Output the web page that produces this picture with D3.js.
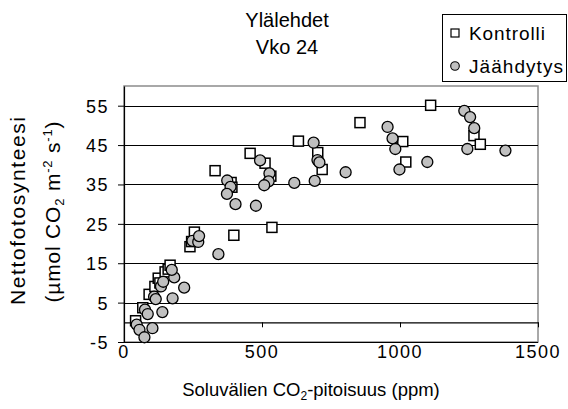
<!DOCTYPE html>
<html>
<head>
<meta charset="utf-8">
<script src="https://cdn.jsdelivr.net/npm/d3@7"></script>
<style>
body { margin: 0; background: #fff; }
text { font-family: "Liberation Sans", Arial, sans-serif; fill: #000; }
</style>
</head>
<body>
<div id="chart"></div>
<script>
// values
var kontrolliX = [42, 68, 91, 112, 124, 130, 149, 160, 167, 239, 245, 255, 330, 388, 391, 398, 457, 511, 532, 536, 632, 702, 718, 855, 1010, 1021, 1111, 1268, 1291];
var kontrolliY = [0.4, 3.7, 7.1, 9.1, 11.2, 10.0, 12.8, 13.5, 14.5, 19.2, 20.5, 22.9, 38.5, 35.5, 34.3, 22.1, 42.9, 40.4, 37.1, 24.1, 46.0, 43.1, 38.8, 50.7, 45.9, 40.7, 55.1, 47.4, 45.2];

var jaahdytysX = [46, 56, 74, 103, 76, 86, 139, 109, 115, 176, 218, 134, 142, 182, 173, 248, 269, 272, 342, 374, 386, 373, 404, 478, 493, 527, 524, 508, 617, 687, 701, 708, 691, 803, 955, 973, 983, 998, 1099, 1233, 1254, 1269, 1244, 1382];
var jaahdytysY = [-0.6, -1.9, -3.8, -1.5, 3.2, 2.1, 2.6, 6.5, 5.9, 6.1, 8.8, 9.1, 10.3, 11.4, 13.3, 20.7, 20.4, 21.9, 17.3, 36.0, 34.4, 32.6, 30.0, 29.6, 41.1, 37.8, 35.8, 34.8, 35.4, 45.6, 41.2, 40.6, 35.9, 38.1, 49.6, 46.7, 44.0, 38.8, 40.7, 53.7, 52.1, 49.3, 44.0, 43.6];

var seriesNames = ["Kontrolli", "Jäähdytys"];
var xTicks = [0, 500, 1000, 1500];
var yTicks = [-5, 5, 15, 25, 35, 45, 55];

var width = 568, height = 409;
var margin = {left: 124, right: 30, top: 86, bottom: 67};
var w = width - margin.left - margin.right;
var h = height - margin.top - margin.bottom;

var svg = d3.select("#chart")
	.append("svg")
	.attr("width", width)
	.attr("height", height);

var g = svg.append("g")
	.attr("transform", "translate(" + margin.left + "," + margin.top + ")");

var x = d3.scaleLinear().domain([0, 1500]).range([0, w]);
var y = d3.scaleLinear().domain([-5, 60]).range([h, 0]);

// plain hyphen for negatives, like the original
function plain(d) { return String(d); }

// plot frame (grey)
g.append("rect")
	.attr("x", 0).attr("y", 0)
	.attr("width", w).attr("height", h)
	.attr("fill", "none")
	.attr("stroke", "#8c8c8c")
	.attr("stroke-width", 1.5);

// gridlines
g.selectAll("line.grid")
	.data(yTicks)
	.enter()
	.append("line")
	.attr("class", "grid")
	.attr("x1", 0).attr("x2", w)
	.attr("y1", function(d) { return Math.round(y(d)) + 0.5; })
	.attr("y2", function(d) { return Math.round(y(d)) + 0.5; })
	.attr("stroke", "#000")
	.attr("stroke-width", 1);

// y axis
var yAxis = g.append("g")
	.call(d3.axisLeft(y).tickValues(yTicks).tickFormat(plain).tickSizeInner(6).tickSizeOuter(0).tickPadding(9));
yAxis.select(".domain").attr("stroke", "#000").attr("stroke-width", 1.2);
yAxis.selectAll("text")
	.style("font-size", "18px")
	.style("letter-spacing", "1.5px")
	.attr("dy", "0.36em");

// x axis crosses at y = 0, labels sit under the frame
var xAxis = g.append("g")
	.attr("transform", "translate(0," + y(0) + ")")
	.call(d3.axisBottom(x).tickValues(xTicks).tickSizeInner(5).tickSizeOuter(0).tickFormat(""));
xAxis.select(".domain").attr("stroke", "#000").attr("stroke-width", 1.2);

g.selectAll("text.xlab")
	.data(xTicks)
	.enter()
	.append("text")
	.attr("class", "xlab")
	.attr("x", function(d) { return x(d); })
	.attr("y", h + 16)
	.attr("text-anchor", "middle")
	.style("font-size", "18px")
	.style("letter-spacing", "1.5px")
	.text(plain);

// Kontrolli squares
var sq = 10;
g.selectAll("rect.kontrolli")
	.data(d3.range(kontrolliX.length))
	.enter()
	.append("rect")
	.attr("class", "kontrolli")
	.attr("x", function(i) { return x(kontrolliX[i]) - sq / 2; })
	.attr("y", function(i) { return y(kontrolliY[i]) - sq / 2; })
	.attr("width", sq).attr("height", sq)
	.attr("fill", "#fff")
	.attr("stroke", "#000")
	.attr("stroke-width", 1.5);

// Jäähdytys circles
g.selectAll("circle.jaahdytys")
	.data(d3.range(jaahdytysX.length))
	.enter()
	.append("circle")
	.attr("class", "jaahdytys")
	.attr("cx", function(i) { return x(jaahdytysX[i]); })
	.attr("cy", function(i) { return y(jaahdytysY[i]); })
	.attr("r", 5.5)
	.attr("fill", "#c0c0c0")
	.attr("stroke", "#000")
	.attr("stroke-width", 1.3);

// title
svg.append("text").attr("x", 287).attr("y", 27).attr("text-anchor", "middle")
	.style("font-size", "20px").text("Ylälehdet");
svg.append("text").attr("x", 287).attr("y", 54).attr("text-anchor", "middle")
	.style("font-size", "20px").text("Vko 24");

// x title
var xt = svg.append("text").attr("x", 311).attr("y", 396).attr("text-anchor", "middle")
	.style("font-size", "18.5px");
xt.append("tspan").text("Soluvälien CO");
xt.append("tspan").attr("dy", 4).style("font-size", "12px").text("2");
xt.append("tspan").attr("dy", -4).text("-pitoisuus (ppm)");

// y title, two lines
svg.append("text")
	.attr("transform", "translate(25,211) rotate(-90)")
	.attr("text-anchor", "middle")
	.attr("textLength", 188)
	.style("font-size", "21px")
	.text("Nettofotosynteesi");

var yt2 = svg.append("text")
	.attr("transform", "translate(60,212) rotate(-90)")
	.attr("text-anchor", "middle")
	.attr("textLength", 181)
	.style("font-size", "21px");
yt2.append("tspan").text("(µmol CO");
yt2.append("tspan").attr("dy", 4).style("font-size", "13px").text("2");
yt2.append("tspan").attr("dy", -4).text(" m");
yt2.append("tspan").attr("dy", -8).style("font-size", "13px").text("-2");
yt2.append("tspan").attr("dy", 8).text(" s");
yt2.append("tspan").attr("dy", -8).style("font-size", "13px").text("-1");
yt2.append("tspan").attr("dy", 8).text(")");

// legend
var lg = svg.append("g");
lg.append("rect")
	.attr("x", 442.5).attr("y", 14.5)
	.attr("width", 124).attr("height", 67)
	.attr("fill", "#fff").attr("stroke", "#000").attr("stroke-width", 1);
lg.append("rect")
	.attr("x", 451).attr("y", 29).attr("width", 8).attr("height", 8)
	.attr("fill", "#fff").attr("stroke", "#000").attr("stroke-width", 1.2);
lg.append("circle")
	.attr("cx", 455).attr("cy", 66).attr("r", 4.3)
	.attr("fill", "#c0c0c0").attr("stroke", "#000").attr("stroke-width", 1.1);
lg.selectAll("text.leg")
	.data(seriesNames)
	.enter()
	.append("text")
	.attr("class", "leg")
	.attr("x", 469)
	.attr("y", function(d, i) { return i == 0 ? 39.5 : 73; })
	.attr("textLength", function(d, i) { return i == 0 ? 76 : 94; })
	.style("font-size", "19px")
	.text(function(d) { return d; });
</script>
</body>
</html>
